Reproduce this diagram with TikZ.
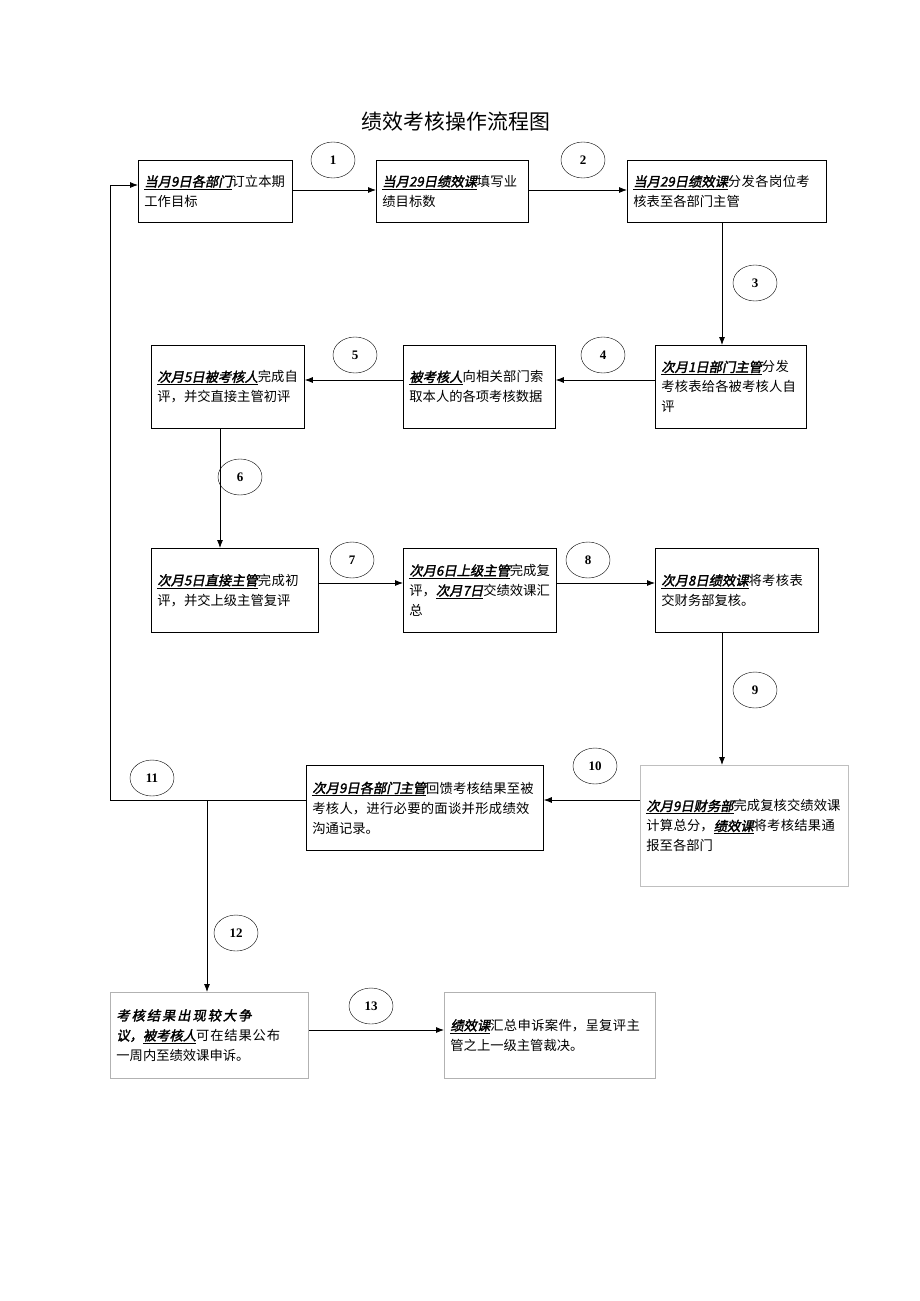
\documentclass[tikz,border=0pt]{standalone}
\usepackage{fontspec}
\setmainfont{Liberation Serif}
\newfontfamily\cjk{Noto Sans CJK SC}[Scale=0.95]
\newfontfamily\cjkbi{Noto Sans CJK SC}[Scale=0.95,FakeSlant=0.2,FakeBold=2]
\newcommand{\bi}[1]{\underline{\cjkbi #1}}
\XeTeXlinebreaklocale "zh"
\XeTeXlinebreakskip=0pt plus 1pt
\usetikzlibrary{arrows.meta,shapes.geometric}
\begin{document}
\begin{tikzpicture}[x=1pt,y=-1pt,
 bx/.style={draw,thick,inner sep=5pt,align=left,font=\cjk\fontsize{14}{20}\selectfont,anchor=north west},
 num/.style={draw,ellipse,minimum width=44pt,minimum height=36pt,font=\bfseries\fontsize{13}{13}\selectfont},
 ar/.style={thick,-{Latex[length=8pt,width=6pt]}}]
\useasboundingbox (0,0) rectangle (920,1301);
\node[font=\cjk\fontsize{22}{22}\selectfont] (t) at (456,122) {绩效考核操作流程图};
\newcommand{\bxx}[7][]{\pgfmathsetmacro\tw{#5-#3-12}\pgfmathsetmacro\mw{#5-#3}\pgfmathsetmacro\mh{#6-#4}%
 \node[bx,#1,minimum width=\mw pt,minimum height=\mh pt,text width=\tw pt] (#2) at (#3,#4) {#7};}
\bxx{b1}{138}{160}{292}{222}{\bi{当月9日各部门}订立本期工作目标}
\bxx{b2}{376}{160}{528}{222}{\bi{当月29日绩效课}填写业绩目标数}
\bxx{b3}{627}{160}{826}{222}{\bi{当月29日绩效课}分发各岗位考核表至各部门主管}
\bxx{b4}{655}{345}{806}{428}{\bi{次月1日部门主管}分发考核表给各被考核人自评}
\bxx{b5}{403}{345}{555}{428}{\bi{被考核人}向相关部门索取本人的各项考核数据}
\bxx{b6}{151}{345}{304}{428}{\bi{次月5日被考核人}完成自评，并交直接主管初评}
\bxx{b7}{151}{548}{318}{632}{\bi{次月5日直接主管}完成初评，并交上级主管复评}
\bxx{b8}{403}{548}{556}{632}{\bi{次月6日上级主管}完成复评，\bi{次月7日}交绩效课汇总}
\bxx{b9}{655}{548}{818}{632}{\bi{次月8日绩效课}将考核表交财务部复核。}
\bxx[draw=gray!50]{b10}{640}{765}{848}{886}{\bi{次月9日财务部}完成复核交绩效课计算总分，\bi{绩效课}将考核结果通报至各部门}
\bxx{b11}{306}{765}{543}{850}{\bi{次月9日各部门主管}回馈考核结果至被考核人，进行必要的面谈并形成绩效沟通记录。}
\bxx[draw=gray!60]{b12}{110}{992}{308}{1078}{{\cjkbi 考核结果出现较大争议，}\bi{被考核人}可在结果公布一周内至绩效课申诉。}
\bxx[draw=gray!60]{b13}{444}{992}{655}{1078}{\bi{绩效课}汇总申诉案件，呈复评主管之上一级主管裁决。}
\foreach \n/\x/\y in {1/333/160,2/583/160,3/755/283,4/603/355,5/355/355,6/240/477,7/352/560,8/588/560,9/755/690,10/595/766,11/152/778,12/236/933,13/371/1006}
 \node[num] (c\n) at (\x,\y) {\n};
\draw[ar] (b1.east|-0,190) -- (b2.west|-0,190);
\draw[ar] (b2.east|-0,190) -- (b3.west|-0,190);
\draw[ar] (722,222) -- (b4.north-|722,0);
\draw[ar] (b4.west|-0,380) -- (b5.east|-0,380);
\draw[ar] (b5.west|-0,380) -- (b6.east|-0,380);
\draw[ar] (220,428) -- (b7.north-|220,0);
\draw[ar] (b7.east|-0,583) -- (b8.west|-0,583);
\draw[ar] (b8.east|-0,583) -- (b9.west|-0,583);
\draw[ar] (722,632) -- (b10.north-|722,0);
\draw[ar] (b10.west|-0,800) -- (b11.east|-0,800);
\coordinate (p1) at (110,800); \coordinate (p2) at (110,185);
\draw[ar] (b11.west|-0,800) -- (p1) -- (p2) -- (b1.west|-0,185);
\draw[ar] (207,800) -- (b12.north-|207,0);
\draw[ar] (b12.east|-0,1030) -- (b13.west|-0,1030);
\end{tikzpicture}
\end{document}
